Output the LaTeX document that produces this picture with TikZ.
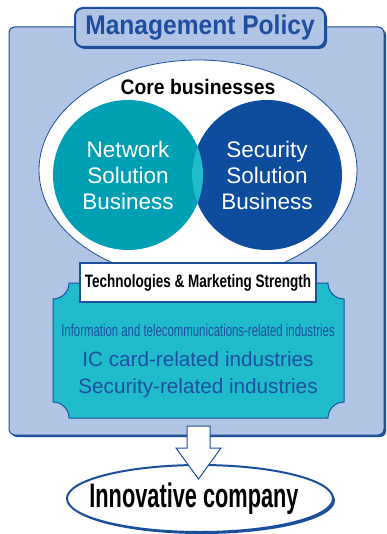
\documentclass[tikz,border=0pt]{standalone}
\usepackage{fontspec}
\setmainfont{Liberation Sans}
\usepackage{graphicx}
\usetikzlibrary{positioning, shapes.geometric, shadows}

\definecolor{panelblue}{RGB}{176,196,228}
\definecolor{darkblue}{RGB}{27,79,156}
\definecolor{textblue}{RGB}{30,78,160}
\definecolor{netteal}{RGB}{0,160,180}
\definecolor{secblue}{RGB}{14,76,158}
\definecolor{lightteal}{RGB}{32,188,204}

\begin{document}
\begin{tikzpicture}[x=1pt, y=-1pt,
    panel/.style={rectangle, draw=darkblue, fill=panelblue, line width=1pt,
        rounded corners=6pt,
        drop shadow={shadow xshift=2pt, shadow yshift=-2pt, fill=darkblue, opacity=1}},
    titlebox/.style={panel, line width=2pt, rounded corners=8pt, text=textblue,
        font=\fontsize{27}{27}\selectfont\bfseries},
    business/.style={circle, inner sep=0pt, minimum size=150pt, align=center,
        text=white, font=\fontsize{22.5}{26}\selectfont},
    strength/.style={rectangle, draw=darkblue, fill=white, line width=1.5pt,
        minimum width=236pt, minimum height=39pt, inner sep=0pt,
        font=\fontsize{18}{18}\selectfont\bfseries},
    industry/.style={text=textblue, inner sep=0pt, font=\fontsize{20.7}{20.7}\selectfont}
]

    \useasboundingbox (0,0) rectangle (387,534);

    % Frame ------------------------------------------------------

    \node[panel, minimum width=375pt, minimum height=408pt] (frame) at (196.5,231) {};
    \node[titlebox, minimum width=250pt, minimum height=39pt] (policy) at (200,27.5)
        {\scalebox{0.91}[1]{Management Policy}};

    % Core businesses --------------------------------------------

    \node[ellipse, draw=darkblue, fill=white, line width=0.8pt,
        minimum width=318pt, minimum height=220pt] (core) at (198,170) {};
    \node[font=\fontsize{21}{21}\selectfont\bfseries] (coretitle) at (198,87)
        {\scalebox{0.92}[1]{Core businesses}};

    \node[business, fill=netteal] (network) at (128,175) {};
    \node[business, fill=secblue] (security) at (267,175) {};
    \begin{scope}
        \clip (network.center) circle (75);
        \fill[lightteal] (security.center) circle (75);
    \end{scope}
    \node[business] at (network.center) {Network\\Solution\\Business};
    \node[business] at (security.center) {Security\\Solution\\Business};

    % Industries -------------------------------------------------

    \draw[draw=darkblue, fill=lightteal, line width=1pt]
        (69,283) -- (328,283) arc[start angle=180, end angle=90, radius=16]
        -- (344,402) arc[start angle=-90, end angle=-180, radius=16]
        -- (69,418) arc[start angle=0, end angle=-90, radius=16]
        -- (53,299) arc[start angle=90, end angle=0, radius=16] -- cycle;

    \node[strength] (tech) at (198,282.5)
        {\scalebox{0.75}[1]{Technologies \& Marketing Strength}};

    \node[industry] (info) at (198,330)
        {\scalebox{0.67}[1]{\fontsize{17}{17}\selectfont Information and telecommunications-related industries}};
    \node[industry] (iccard) at (198,359) {IC card-related industries};
    \node[industry] (secind) at (198,388) {Security-related industries};

    % Result -----------------------------------------------------

    \node[ellipse, draw=darkblue, fill=white, line width=2pt, inner sep=0pt,
        minimum width=266pt, minimum height=67pt,
        drop shadow={shadow xshift=2pt, shadow yshift=-2pt, fill=darkblue, opacity=1}]
        (innov) at (200,498.5) {};
    \node[font=\fontsize{34}{34}\selectfont\bfseries] (innovtext) at (194,499)
        {\scalebox{0.64}[1]{Innovative company}};

    \draw[draw=darkblue, fill=white, line width=1pt]
        (187,426) -- (210,426) -- (210,448) -- (221,448) -- (198.5,479)
        -- (176,448) -- (187,448) -- cycle;

\end{tikzpicture}
\end{document}
